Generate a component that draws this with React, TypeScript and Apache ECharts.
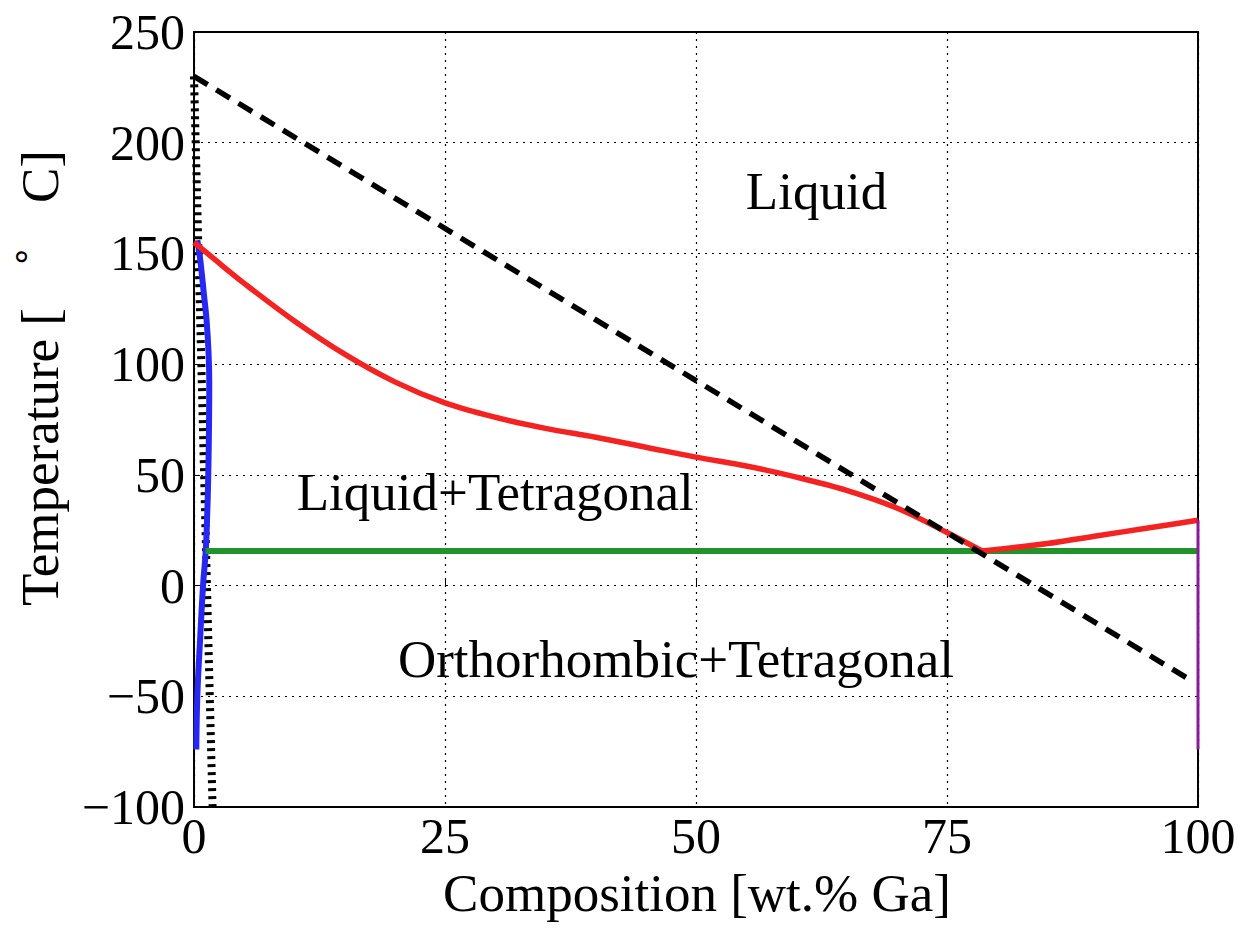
import React, { useEffect, useRef } from "react";
import * as echarts from "echarts";

const FONT = '"Liberation Serif", "Times New Roman", serif';

// Red liquidus (left branch, down to eutectic) and right branch
const redLeftX = [0, 2, 5, 10, 15, 20, 25, 30, 35, 40, 45, 50, 55, 60, 65, 70, 75, 78.5];
const redLeftT = [155, 147.5, 136.5, 119.5, 104.5, 92, 82.5, 76, 71, 67, 62.5, 58, 54, 49, 43, 35, 24, 15.6];
const redRightX = [78.5, 85, 90, 95, 100];
const redRightT = [15.6, 19, 22.5, 26, 29.5];

// Blue solvus near pure In
const blueX = [0.33, 0.6, 1.0, 1.25, 1.45, 1.52, 1.5, 1.42, 1.3, 1.16, 0.9, 0.6, 0.33, 0.23];
const blueT = [156, 148, 131, 120, 105, 92, 75, 50, 30, 15, 0, -25, -50, -74];

// Green eutectic isotherm
const greenX = [1.16, 100];
const greenT = [15.6, 15.6];

// Black dashed line
const dashX = [0, 98.8];
const dashT = [230, -41.5];

// Black dotted line near x=0
const dotX = [0, 1.85];
const dotT = [230, -100];

// Purple vertical at pure Ga
const purpleX = [100, 100];
const purpleT = [-74, 29.5];

// Region labels
const labelX = [62, 30, 48];
const labelT = [178, 42.3, -33.2];
const labelText = ["Liquid", "Liquid+Tetragonal", "Orthorhombic+Tetragonal"];

const xTicks = { min: 0, max: 100, interval: 25 };
const yTicks = { min: -100, max: 250, interval: 50 };

const zip = (xs: number[], ys: number[]) => xs.map((x, i) => [x, ys[i]]);

export default function App() {
  const ref = useRef<HTMLDivElement>(null);
  useEffect(() => {
    const chart = echarts.init(ref.current as HTMLDivElement, null, { renderer: "svg" });
    const lineBase = { type: "line", symbol: "none", silent: true };
    chart.setOption({
      animation: false,
      backgroundColor: "#fff",
      grid: {
        left: 194,
        top: 32,
        width: 1004,
        height: 775,
        show: true,
        borderColor: "#000",
        borderWidth: 2,
        backgroundColor: "transparent",
      },
      xAxis: {
        type: "value",
        ...xTicks,
        axisLine: { show: false },
        axisTick: { show: true, inside: true, length: 6, lineStyle: { color: "#000", width: 1 } },
        splitLine: { show: true, lineStyle: { type: [2, 5], color: "#000", width: 1.2 } },
        axisLabel: { fontFamily: FONT, fontSize: 50, color: "#000", margin: 4 },
      },
      yAxis: {
        type: "value",
        ...yTicks,
        axisLine: { show: false },
        axisTick: { show: true, inside: true, length: 6, lineStyle: { color: "#000", width: 1 } },
        splitLine: { show: true, lineStyle: { type: [2, 5], color: "#000", width: 1.2 } },
        axisLabel: {
          fontFamily: FONT,
          fontSize: 50,
          color: "#000",
          margin: 9,
          formatter: (v: number) => (v < 0 ? "\u2212" + Math.abs(v) : String(v)),
        },
      },
      series: [
        {
          ...lineBase,
          data: zip(dotX, dotT),
          lineStyle: { color: "#000", width: 8, type: [3, 5] },
        },
        {
          ...lineBase,
          data: zip(blueX, blueT),
          smooth: 0.4,
          lineStyle: { color: "#2828f5", width: 6 },
        },
        {
          ...lineBase,
          data: zip(greenX, greenT),
          lineStyle: { color: "#22932a", width: 6 },
        },
        {
          ...lineBase,
          data: zip(redLeftX, redLeftT),
          smooth: 0.35,
          lineStyle: { color: "#f52222", width: 5.5 },
        },
        {
          ...lineBase,
          data: zip(redRightX, redRightT),
          smooth: 0.35,
          lineStyle: { color: "#f52222", width: 5.5 },
        },
        {
          ...lineBase,
          data: zip(dashX, dashT),
          lineStyle: { color: "#000", width: 5.5, type: [16, 10] },
        },
        {
          ...lineBase,
          data: zip(purpleX, purpleT),
          lineStyle: { color: "#8a1a9a", width: 3 },
        },
      ],
    });

    const labelGraphics = labelX.map((x, i) => {
      const p = chart.convertToPixel({ gridIndex: 0 }, [x, labelT[i]]) as number[];
      return {
        type: "text",
        id: "lbl" + i,
        x: p[0],
        y: p[1],
        silent: true,
        style: {
          text: labelText[i],
          fontSize: 53,
          fontFamily: FONT,
          fill: "#000",
          align: "center",
          verticalAlign: "middle",
        },
      };
    });

    chart.setOption({
      graphic: [
        {
          type: "text",
          id: "xtitle",
          x: 697,
          y: 893,
          silent: true,
          style: {
            text: "Composition [wt.% Ga]",
            fontSize: 53,
            fontFamily: FONT,
            fill: "#000",
            align: "center",
            verticalAlign: "middle",
          },
        },
        {
          type: "text",
          id: "ytitle",
          x: 40,
          y: 378,
          rotation: Math.PI / 2,
          silent: true,
          style: {
            text: "{a|Temperature [}{s|\u2218}{a|C]}",
            fill: "#000",
            align: "center",
            verticalAlign: "middle",
            rich: {
              a: { fontSize: 53, fontFamily: FONT, fill: "#000" },
              s: { fontSize: 36, fontFamily: FONT, fill: "#000", padding: [0, 42, 40, 40] },
            },
          },
        },
        ...labelGraphics,
      ],
    });
    return () => chart.dispose();
  }, []);
  return (
    <div
      ref={ref}
      style={{ position: "absolute", left: 0, top: 0, width: 1247, height: 928, background: "#fff" }}
    />
  );
}
